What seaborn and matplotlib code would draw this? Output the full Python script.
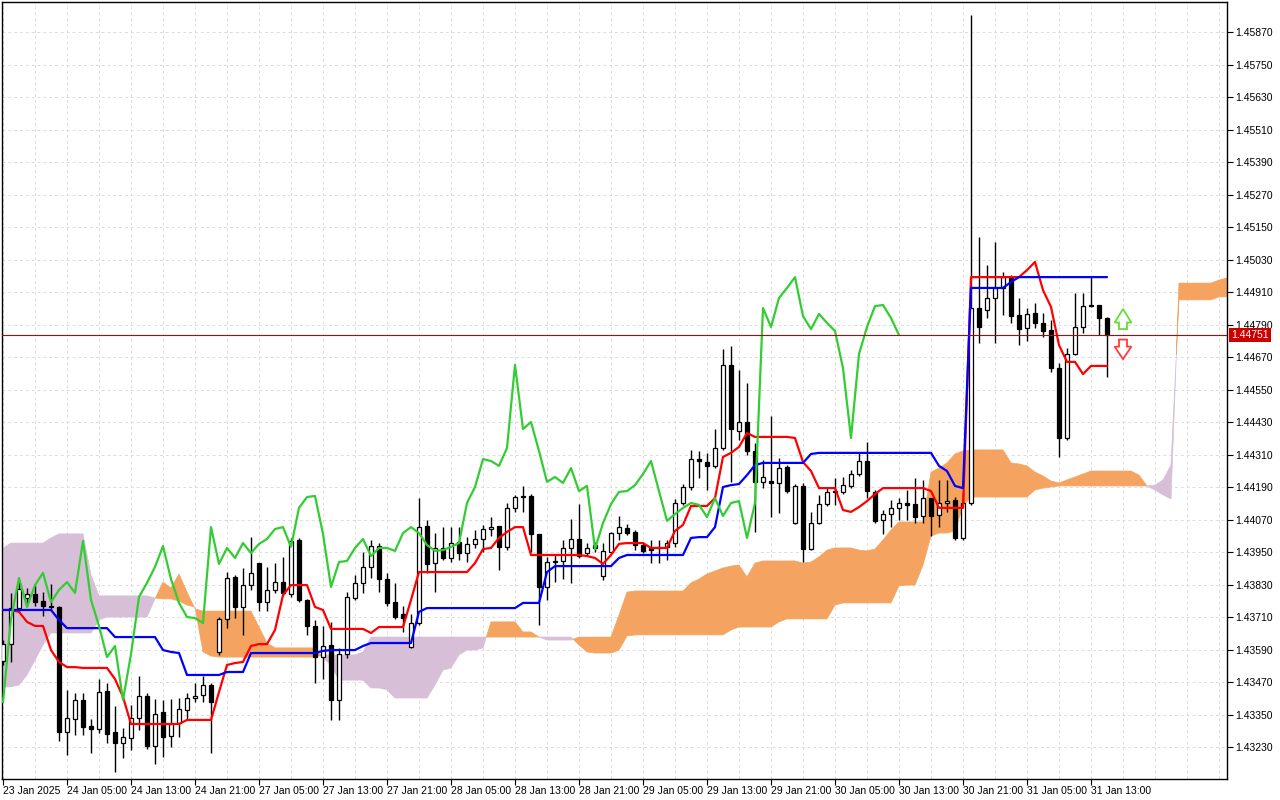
import numpy as np
import pandas as pd
import matplotlib
matplotlib.use('Agg')
import matplotlib.pyplot as plt
from matplotlib.patches import Polygon
from matplotlib.transforms import blended_transform_factory
import seaborn as sns

# H1 candles, 23 Jan 21:00 .. 31 Jan 15:00
open_ = [
    1.43548, 1.43610, 1.43743, 1.43780, 1.43795, 1.43769, 1.43751, 1.43747, 1.43285, 1.43333,
    1.43404, 1.43308, 1.43297, 1.43437, 1.43285, 1.43245, 1.43263, 1.43337, 1.43418, 1.43234,
    1.43359, 1.43271, 1.43319, 1.43367, 1.43411, 1.43422, 1.43459, 1.43581, 1.43703, 1.43858,
    1.43747, 1.43828, 1.43909, 1.43765, 1.43810, 1.43839, 1.43795, 1.43994, 1.43773, 1.43677,
    1.43562, 1.43607, 1.43404, 1.43573, 1.43780, 1.43836, 1.43895, 1.43972, 1.43850, 1.43765,
    1.43721, 1.43599, 1.43688, 1.44046, 1.43909, 1.43965, 1.43928, 1.43987, 1.43946, 1.43980,
    1.43998, 1.44035, 1.44046, 1.43969, 1.44113, 1.44153, 1.44157, 1.44017, 1.43821, 1.43913,
    1.43917, 1.43965, 1.43998, 1.43946, 1.43976, 1.43861, 1.43950, 1.44020, 1.44039, 1.44024,
    1.43976, 1.43965, 1.43965, 1.43969, 1.43983, 1.44131, 1.44190, 1.44293, 1.44282, 1.44268,
    1.44334, 1.44641, 1.44397, 1.44430, 1.44323, 1.44209, 1.44212, 1.44205, 1.44264, 1.44057,
    1.44194, 1.43961, 1.44057, 1.44127, 1.44172, 1.44172, 1.44194, 1.44238, 1.44286, 1.44172,
    1.44068, 1.44090, 1.44113, 1.44131, 1.44127, 1.44083, 1.44149, 1.44087, 1.44131, 1.44142,
    1.44002, 1.44131, 1.44851, 1.44844, 1.44888, 1.44925, 1.44965, 1.44825, 1.44777, 1.44833,
    1.44796, 1.44770, 1.44629, 1.44371, 1.44681, 1.44781, 1.44858, 1.44862, 1.44814,
]
high = [
    1.43625, 1.43799, 1.43847, 1.43817, 1.43828, 1.43802, 1.43832, 1.43751, 1.43441, 1.43429,
    1.43429, 1.43333, 1.43481, 1.43466, 1.43381, 1.43300, 1.43385, 1.43492, 1.43429, 1.43407,
    1.43404, 1.43407, 1.43411, 1.43429, 1.43466, 1.43492, 1.43466, 1.43710, 1.43876, 1.43865,
    1.43891, 1.44005, 1.43909, 1.43895, 1.43909, 1.43932, 1.44002, 1.44002, 1.43777, 1.43699,
    1.43677, 1.43692, 1.43596, 1.43802, 1.43865, 1.43950, 1.43994, 1.43983, 1.43873, 1.43836,
    1.43751, 1.43721, 1.44149, 1.44068, 1.44020, 1.44042, 1.44042, 1.44042, 1.44005, 1.44031,
    1.44050, 1.44079, 1.44046, 1.44131, 1.44161, 1.44194, 1.44164, 1.44017, 1.43932, 1.43939,
    1.43994, 1.44072, 1.44127, 1.43983, 1.43987, 1.43983, 1.44024, 1.44083, 1.44053, 1.44031,
    1.43987, 1.43994, 1.43994, 1.43994, 1.44146, 1.44201, 1.44327, 1.44323, 1.44316, 1.44404,
    1.44700, 1.44711, 1.44622, 1.44574, 1.44353, 1.44290, 1.44452, 1.44297, 1.44271, 1.44201,
    1.44205, 1.44098, 1.44161, 1.44186, 1.44223, 1.44227, 1.44253, 1.44316, 1.44356, 1.44179,
    1.44105, 1.44142, 1.44149, 1.44179, 1.44223, 1.44216, 1.44149, 1.44216, 1.44216, 1.44153,
    1.44172, 1.45933, 1.45113, 1.45010, 1.45095, 1.44984, 1.44973, 1.44888, 1.44851, 1.44869,
    1.44833, 1.44807, 1.44648, 1.44703, 1.44906, 1.44906, 1.44965, 1.44862, 1.44818,
]
low = [
    1.43533, 1.43544, 1.43729, 1.43751, 1.43751, 1.43714, 1.43736, 1.43252, 1.43201, 1.43274,
    1.43274, 1.43208, 1.43282, 1.43245, 1.43138, 1.43189, 1.43219, 1.43293, 1.43223, 1.43167,
    1.43193, 1.43230, 1.43267, 1.43330, 1.43396, 1.43396, 1.43208, 1.43570, 1.43669, 1.43706,
    1.43644, 1.43810, 1.43732, 1.43732, 1.43799, 1.43788, 1.43784, 1.43765, 1.43644, 1.43466,
    1.43481, 1.43330, 1.43330, 1.43559, 1.43773, 1.43799, 1.43854, 1.43802, 1.43751, 1.43703,
    1.43655, 1.43596, 1.43681, 1.43873, 1.43802, 1.43921, 1.43913, 1.43921, 1.43913, 1.43965,
    1.43950, 1.44009, 1.43884, 1.43957, 1.44098, 1.44098, 1.43950, 1.43681, 1.43773, 1.43839,
    1.43850, 1.43836, 1.43928, 1.43935, 1.43950, 1.43847, 1.43946, 1.43994, 1.44013, 1.43957,
    1.43946, 1.43909, 1.43909, 1.43921, 1.43969, 1.44124, 1.44179, 1.44223, 1.44179, 1.44260,
    1.44327, 1.44209, 1.44364, 1.44308, 1.44024, 1.44186, 1.44079, 1.44094, 1.44168, 1.44053,
    1.43913, 1.43957, 1.44053, 1.44120, 1.44124, 1.44164, 1.44186, 1.44231, 1.44149, 1.44057,
    1.44017, 1.44042, 1.44068, 1.44068, 1.44057, 1.44057, 1.44009, 1.44042, 1.44098, 1.43994,
    1.43994, 1.44124, 1.44722, 1.44814, 1.44722, 1.44825, 1.44796, 1.44714, 1.44729, 1.44777,
    1.44744, 1.44615, 1.44301, 1.44364, 1.44677, 1.44759, 1.44855, 1.44751, 1.44596,
]
close_ = [
    1.43610, 1.43743, 1.43813, 1.43795, 1.43765, 1.43751, 1.43747, 1.43285, 1.43337, 1.43404,
    1.43304, 1.43297, 1.43433, 1.43278, 1.43245, 1.43267, 1.43337, 1.43418, 1.43234, 1.43352,
    1.43267, 1.43315, 1.43370, 1.43411, 1.43418, 1.43459, 1.43396, 1.43703, 1.43854, 1.43747,
    1.43828, 1.43873, 1.43765, 1.43810, 1.43839, 1.43799, 1.43991, 1.43773, 1.43677, 1.43562,
    1.43603, 1.43404, 1.43573, 1.43784, 1.43836, 1.43895, 1.43972, 1.43850, 1.43762, 1.43710,
    1.43706, 1.43688, 1.44042, 1.43906, 1.43965, 1.43928, 1.43983, 1.43946, 1.43980, 1.43998,
    1.44035, 1.44042, 1.43969, 1.44113, 1.44153, 1.44157, 1.44017, 1.43821, 1.43913, 1.43917,
    1.43965, 1.43998, 1.43935, 1.43965, 1.43965, 1.43954, 1.44020, 1.44042, 1.44020, 1.43976,
    1.43954, 1.43957, 1.43969, 1.43983, 1.44131, 1.44190, 1.44293, 1.44286, 1.44268, 1.44334,
    1.44641, 1.44404, 1.44430, 1.44323, 1.44209, 1.44227, 1.44205, 1.44260, 1.44175, 1.44194,
    1.43961, 1.44057, 1.44127, 1.44172, 1.44175, 1.44197, 1.44238, 1.44286, 1.44175, 1.44065,
    1.44090, 1.44113, 1.44131, 1.44124, 1.44079, 1.44149, 1.44083, 1.44131, 1.44138, 1.44002,
    1.44131, 1.44851, 1.44781, 1.44888, 1.44925, 1.44965, 1.44821, 1.44773, 1.44829, 1.44796,
    1.44766, 1.44629, 1.44371, 1.44681, 1.44781, 1.44858, 1.44862, 1.44814, 1.44751,
]

# Ichimoku lines (per bar)
tenkan = [
    1.43736, 1.43736, 1.43729, 1.43692, 1.43677, 1.43677, 1.43588, 1.43544, 1.43525, 1.43525,
    1.43522, 1.43522, 1.43522, 1.43522, 1.43481, 1.43415, 1.43315, 1.43315, 1.43315, 1.43315,
    1.43315, 1.43315, 1.43315, 1.43330, 1.43330, 1.43330, 1.43330, 1.43433, 1.43533, 1.43540,
    1.43544, 1.43603, 1.43610, 1.43610, 1.43662, 1.43791, 1.43828, 1.43828, 1.43828, 1.43747,
    1.43736, 1.43666, 1.43666, 1.43666, 1.43666, 1.43666, 1.43651, 1.43673, 1.43673, 1.43673,
    1.43673, 1.43773, 1.43876, 1.43876, 1.43876, 1.43876, 1.43876, 1.43876, 1.43876, 1.43909,
    1.43961, 1.43965, 1.44002, 1.44024, 1.44042, 1.44042, 1.43939, 1.43939, 1.43939, 1.43939,
    1.43939, 1.43939, 1.43939, 1.43935, 1.43928, 1.43906, 1.43939, 1.43980, 1.43983, 1.43983,
    1.43983, 1.43965, 1.43965, 1.43965, 1.44028, 1.44050, 1.44120, 1.44120, 1.44120, 1.44149,
    1.44301, 1.44316, 1.44338, 1.44389, 1.44375, 1.44375, 1.44375, 1.44375, 1.44375, 1.44371,
    1.44282, 1.44249, 1.44186, 1.44186, 1.44186, 1.44105, 1.44098, 1.44116, 1.44138, 1.44164,
    1.44186, 1.44186, 1.44186, 1.44186, 1.44186, 1.44186, 1.44175, 1.44113, 1.44113, 1.44113,
    1.44113, 1.44965, 1.44965, 1.44965, 1.44965, 1.44965, 1.44965, 1.44965, 1.44991, 1.45021,
    1.44917, 1.44855, 1.44714, 1.44652, 1.44652, 1.44607, 1.44637, 1.44637, 1.44637,
]
kijun = [
    1.43736, 1.43736, 1.43736, 1.43736, 1.43736, 1.43736, 1.43736, 1.43699, 1.43669, 1.43669,
    1.43669, 1.43669, 1.43669, 1.43669, 1.43636, 1.43636, 1.43636, 1.43636, 1.43636, 1.43636,
    1.43588, 1.43581, 1.43577, 1.43496, 1.43496, 1.43496, 1.43496, 1.43496, 1.43507, 1.43507,
    1.43507, 1.43577, 1.43577, 1.43577, 1.43577, 1.43577, 1.43577, 1.43577, 1.43577, 1.43577,
    1.43585, 1.43588, 1.43588, 1.43588, 1.43588, 1.43603, 1.43614, 1.43614, 1.43614, 1.43614,
    1.43614, 1.43614, 1.43729, 1.43743, 1.43743, 1.43743, 1.43743, 1.43743, 1.43743, 1.43743,
    1.43743, 1.43743, 1.43743, 1.43743, 1.43743, 1.43762, 1.43762, 1.43762, 1.43876, 1.43898,
    1.43898, 1.43898, 1.43898, 1.43898, 1.43898, 1.43898, 1.43898, 1.43928, 1.43939, 1.43939,
    1.43939, 1.43939, 1.43939, 1.43939, 1.43939, 1.43939, 1.44002, 1.44005, 1.44005, 1.44042,
    1.44190, 1.44197, 1.44201, 1.44234, 1.44271, 1.44279, 1.44279, 1.44279, 1.44279, 1.44279,
    1.44279, 1.44312, 1.44316, 1.44316, 1.44316, 1.44316, 1.44316, 1.44316, 1.44316, 1.44316,
    1.44316, 1.44316, 1.44316, 1.44316, 1.44316, 1.44316, 1.44316, 1.44268, 1.44249, 1.44194,
    1.44186, 1.44925, 1.44925, 1.44925, 1.44925, 1.44925, 1.44947, 1.44965, 1.44965, 1.44965,
    1.44965, 1.44965, 1.44965, 1.44965, 1.44965, 1.44965, 1.44965, 1.44965, 1.44965,
]
# Senkou spans, shifted 26 bars ahead (to the right edge)
span_a = [
    1.43452, 1.43452, 1.43459, 1.43496, 1.43551, 1.43607, 1.43651, 1.43651, 1.43651, 1.43651,
    1.43651, 1.43651, 1.43699, 1.43710, 1.43710, 1.43710, 1.43710, 1.43710, 1.43710, 1.43777,
    1.43839, 1.43817, 1.43869, 1.43802, 1.43740, 1.43732, 1.43732, 1.43732, 1.43732, 1.43732,
    1.43732, 1.43732, 1.43673, 1.43614, 1.43596, 1.43596, 1.43596, 1.43596, 1.43596, 1.43596,
    1.43559, 1.43533, 1.43477, 1.43477, 1.43477, 1.43477, 1.43448, 1.43448, 1.43441, 1.43411,
    1.43411, 1.43411, 1.43411, 1.43411, 1.43459, 1.43514, 1.43522, 1.43570, 1.43588, 1.43588,
    1.43596, 1.43692, 1.43692, 1.43692, 1.43692, 1.43655, 1.43655, 1.43636, 1.43625, 1.43625,
    1.43625, 1.43625, 1.43636, 1.43636, 1.43636, 1.43636, 1.43636, 1.43717, 1.43802, 1.43806,
    1.43806, 1.43806, 1.43806, 1.43806, 1.43806, 1.43806, 1.43836, 1.43850, 1.43869, 1.43880,
    1.43891, 1.43898, 1.43902, 1.43858, 1.43909, 1.43917, 1.43917, 1.43917, 1.43917, 1.43917,
    1.43909, 1.43913, 1.43932, 1.43957, 1.43965, 1.43965, 1.43965, 1.43957, 1.43954, 1.43961,
    1.43994, 1.44031, 1.44061, 1.44061, 1.44061, 1.44061, 1.44245, 1.44260, 1.44279, 1.44312,
    1.44323, 1.44327, 1.44327, 1.44327, 1.44327, 1.44327, 1.44279, 1.44275, 1.44268, 1.44245,
    1.44231, 1.44212, 1.44205, 1.44216, 1.44227, 1.44238, 1.44249, 1.44249, 1.44249, 1.44249,
    1.44249, 1.44249, 1.44234, 1.44194, 1.44179, 1.44161, 1.44146, 1.44943, 1.44943, 1.44943,
    1.44943, 1.44943, 1.44954, 1.44962, 1.44969,
]
span_b = [
    1.43965, 1.43983, 1.43983, 1.43983, 1.43983, 1.43983, 1.44002, 1.44017, 1.44017, 1.44017,
    1.44017, 1.43865, 1.43788, 1.43788, 1.43788, 1.43788, 1.43788, 1.43788, 1.43788, 1.43780,
    1.43777, 1.43777, 1.43769, 1.43754, 1.43747, 1.43581, 1.43566, 1.43562, 1.43562, 1.43562,
    1.43562, 1.43562, 1.43562, 1.43562, 1.43562, 1.43562, 1.43562, 1.43562, 1.43562, 1.43562,
    1.43570, 1.43570, 1.43570, 1.43570, 1.43570, 1.43581, 1.43636, 1.43636, 1.43636, 1.43636,
    1.43636, 1.43636, 1.43636, 1.43636, 1.43636, 1.43636, 1.43636, 1.43636, 1.43636, 1.43636,
    1.43636, 1.43636, 1.43636, 1.43636, 1.43636, 1.43636, 1.43636, 1.43636, 1.43636, 1.43636,
    1.43636, 1.43636, 1.43607, 1.43581, 1.43577, 1.43577, 1.43577, 1.43588, 1.43640, 1.43644,
    1.43644, 1.43644, 1.43644, 1.43644, 1.43644, 1.43644, 1.43644, 1.43644, 1.43644, 1.43644,
    1.43644, 1.43662, 1.43673, 1.43673, 1.43673, 1.43673, 1.43673, 1.43692, 1.43703, 1.43703,
    1.43703, 1.43703, 1.43703, 1.43703, 1.43754, 1.43762, 1.43762, 1.43762, 1.43762, 1.43762,
    1.43762, 1.43762, 1.43825, 1.43828, 1.43828, 1.43902, 1.44009, 1.44020, 1.44020, 1.44028,
    1.44120, 1.44153, 1.44153, 1.44153, 1.44153, 1.44153, 1.44153, 1.44153, 1.44153, 1.44179,
    1.44186, 1.44190, 1.44194, 1.44194, 1.44194, 1.44194, 1.44194, 1.44194, 1.44194, 1.44194,
    1.44194, 1.44194, 1.44194, 1.44194, 1.44197, 1.44216, 1.44271, 1.44881, 1.44881, 1.44881,
    1.44881, 1.44881, 1.44892, 1.44892, 1.44895,
]

time_labels = [
    '23 Jan 2025', '24 Jan 05:00', '24 Jan 13:00', '24 Jan 21:00', '27 Jan 05:00',
    '27 Jan 13:00', '27 Jan 21:00', '28 Jan 05:00', '28 Jan 13:00', '28 Jan 21:00',
    '29 Jan 05:00', '29 Jan 13:00', '29 Jan 21:00', '30 Jan 05:00', '30 Jan 13:00',
    '30 Jan 21:00', '31 Jan 05:00', '31 Jan 13:00',
]
price_ticks = [
    1.43230, 1.43350, 1.43470, 1.43590, 1.43710, 1.43830, 1.43950, 1.44070, 1.44190,
    1.44310, 1.44430, 1.44550, 1.44670, 1.44790, 1.44910, 1.45030, 1.45150, 1.45270,
    1.45390, 1.45510, 1.45630, 1.45750, 1.45870,
]
chikou_shift = 26

sns.set_style('white')
plt.rcParams['font.family'] = ['Liberation Sans', 'DejaVu Sans']

n = len(close_)
df = pd.DataFrame({'bar': np.arange(n), 'open': open_, 'high': high, 'low': low,
                   'close': close_, 'tenkan': tenkan, 'kijun': kijun})
cloud = pd.DataFrame({'bar': np.arange(len(span_a)), 'a': span_a, 'b': span_b})
chikou = pd.DataFrame({'bar': np.arange(n - chikou_shift), 'price': close_[chikou_shift:]})

fig = plt.figure(figsize=(12.8, 8), dpi=100)
ax = fig.add_axes([2 / 1280, 21 / 800, 1225 / 1280, 777 / 800])

# cloud
ax.fill_between(cloud['bar'], cloud['a'], cloud['b'], where=cloud['a'] >= cloud['b'],
                interpolate=True, color='#f4a460', lw=0.5, zorder=1)
ax.fill_between(cloud['bar'], cloud['a'], cloud['b'], where=cloud['a'] <= cloud['b'],
                interpolate=True, color='#d8bfd8', lw=0.5, zorder=1)

# candles
up = df['close'] >= df['open']
bottom = np.minimum(df['open'], df['close'])
height = np.maximum((df['close'] - df['open']).abs(), 0.000012)
ax.vlines(df['bar'], df['low'], df['high'], color='black', lw=1.0, zorder=3)
ax.bar(df['bar'][up], height[up], bottom=bottom[up], width=0.6,
       facecolor='white', edgecolor='black', lw=0.9, zorder=4)
ax.bar(df['bar'][~up], height[~up], bottom=bottom[~up], width=0.6,
       facecolor='black', edgecolor='black', lw=0.9, zorder=4)

# lines
sns.lineplot(data=df, x='bar', y='tenkan', color='#ff0000', lw=1.6, ax=ax, zorder=5)
sns.lineplot(data=df, x='bar', y='kijun', color='#0000ff', lw=1.6, ax=ax, zorder=5)
sns.lineplot(data=chikou, x='bar', y='price', color='#32cd32', lw=1.6, ax=ax, zorder=5)

# current price line + label
last = close_[-1]
ax.axhline(last, color='#a01010', lw=0.8, zorder=6)
trans = blended_transform_factory(ax.transAxes, ax.transData)
ax.text(1.0035, last, f'{last:.5f}', transform=trans, ha='left', va='center',
        fontsize=7.5, color='white', zorder=10, clip_on=False,
        bbox=dict(boxstyle='square,pad=0.18', facecolor='#cc0000', edgecolor='none'))

# buy / sell arrows next to the last bar
ax_x = n + 1.0
step = 0.00037
up_pts = [(ax_x - 0.5, last + 0.6 * step), (ax_x - 0.5, last + 1.25 * step),
          (ax_x - 1.05, last + 1.25 * step), (ax_x, last + 2.6 * step),
          (ax_x + 1.05, last + 1.25 * step), (ax_x + 0.5, last + 1.25 * step),
          (ax_x + 0.5, last + 0.6 * step)]
dn_pts = [(ax_x - 0.5, last - 0.45 * step), (ax_x - 0.5, last - 1.15 * step),
          (ax_x - 1.05, last - 1.15 * step), (ax_x, last - 2.4 * step),
          (ax_x + 1.05, last - 1.15 * step), (ax_x + 0.5, last - 1.15 * step),
          (ax_x + 0.5, last - 0.45 * step)]
ax.add_patch(Polygon(up_pts, closed=True, facecolor='white', edgecolor='#66dd33', lw=1.3, zorder=7))
ax.add_patch(Polygon(dn_pts, closed=True, facecolor='white', edgecolor='#ff3b3b', lw=1.3, zorder=7))

ax.set_xlim(-0.125, 153)
ax.set_ylim(1.431119, 1.459808)
ax.set_xlabel('')
ax.set_ylabel('')

ax.yaxis.tick_right()
ax.set_yticks(price_ticks)
ax.set_yticklabels([f'{p:.5f}' for p in price_ticks])
ax.set_xticks(np.arange(len(time_labels)) * 8)
ax.set_xticklabels(time_labels)
ax.set_xticks(np.arange(0, 153, 4), minor=True)
for lbl in ax.get_xticklabels():
    lbl.set_horizontalalignment('left')
ax.tick_params(axis='y', which='major', direction='out', length=4, width=0.8, pad=2,
               labelsize=7.5, colors='black', right=True, left=False)
ax.tick_params(axis='x', which='major', direction='out', length=4, width=0.8, pad=1,
               labelsize=7.5, colors='black', bottom=True)
ax.tick_params(axis='x', which='minor', length=0)

grid_kw = dict(color='#dcdcdc', ls=(0, (3, 3)), lw=0.7)
ax.yaxis.grid(True, which='major', **grid_kw)
ax.xaxis.grid(True, which='both', **grid_kw)
ax.set_axisbelow(True)
for s in ax.spines.values():
    s.set_color('black')
    s.set_linewidth(1.0)

fig.savefig('out.png', dpi=100, facecolor='white')
